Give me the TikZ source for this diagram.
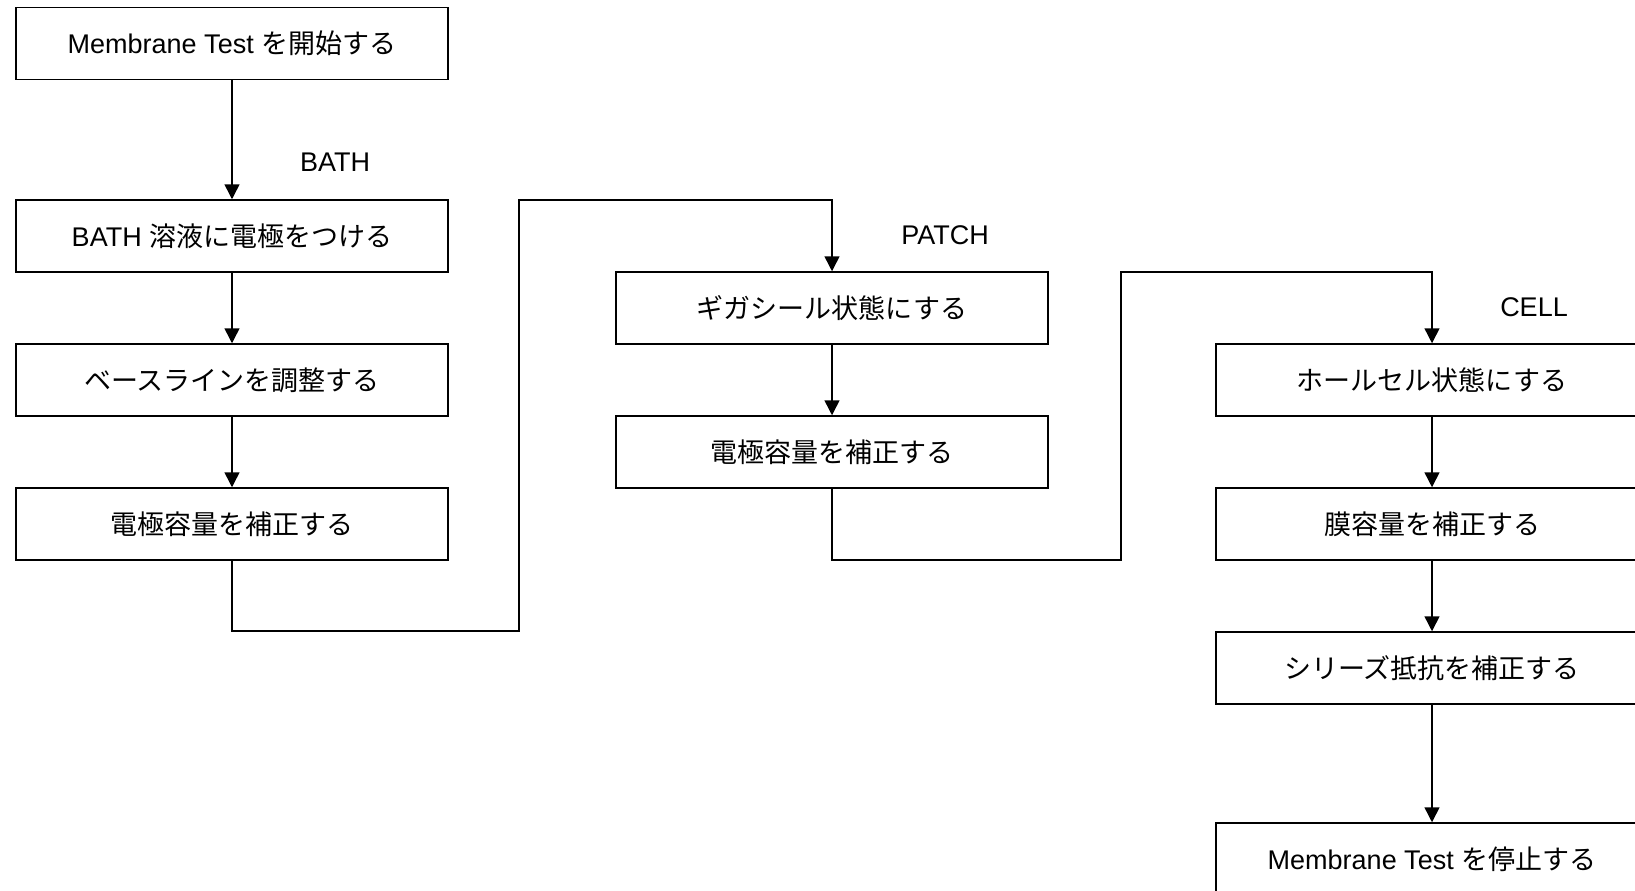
\documentclass[tikz,border=0pt]{standalone}
\usepackage{fontspec}
\setmainfont{Liberation Sans}
\newfontfamily\jp{Noto Sans CJK JP}
\usetikzlibrary{arrows.meta}
\tikzset{
  stepbox/.style={draw, line width=1.5pt, rectangle, minimum width=432pt, minimum height=72pt, inner sep=0pt, font=\fontsize{27}{32}\selectfont},
  lbl/.style={font=\fontsize{27}{32}\selectfont, inner sep=0pt},
  conn/.style={line width=1.5pt},
  arr/.style={conn, -{Triangle[length=15pt,width=15pt]}}
}
\begin{document}
\begin{tikzpicture}[x=1pt,y=-1pt]
\useasboundingbox (0,0) rectangle (1635,891);
\clip (0,0) rectangle (1635,891);
\node[stepbox] (a1) at (232,43.3) {Membrane Test {\jp を開始する}};
\node[stepbox] (a2) at (232,236) {BATH {\jp 溶液に電極をつける}};
\node[stepbox] (a3) at (232,380) {\jp ベースラインを調整する};
\node[stepbox] (a4) at (232,524) {\jp 電極容量を補正する};
\node[stepbox] (b1) at (832,308) {\jp ギガシール状態にする};
\node[stepbox] (b2) at (832,452) {\jp 電極容量を補正する};
\node[stepbox] (c1) at (1432,380) {\jp ホールセル状態にする};
\node[stepbox] (c2) at (1432,524) {\jp 膜容量を補正する};
\node[stepbox] (c3) at (1432,668) {\jp シリーズ抵抗を補正する};
\node[stepbox] (c4) at (1432,859) {Membrane Test {\jp を停止する}};
\node[lbl] (t1) at (335,162) {BATH};
\node[lbl] (t2) at (945,235) {PATCH};
\node[lbl] (t3) at (1534,307) {CELL};
\coordinate (p1) at (232,631);
\coordinate (p2) at (519,631);
\coordinate (p3) at (519,200);
\coordinate (p4) at (832,200);
\coordinate (q1) at (832,560);
\coordinate (q2) at (1121,560);
\coordinate (q3) at (1121,272);
\coordinate (q4) at (1432,272);
\draw[arr] (a1) -- (a2);
\draw[arr] (a2) -- (a3);
\draw[arr] (a3) -- (a4);
\draw[arr] (a4.south) -- (p1) -- (p2) -- (p3) -- (p4) -- (b1.north);
\draw[arr] (b1) -- (b2);
\draw[arr] (b2.south) -- (q1) -- (q2) -- (q3) -- (q4) -- (c1.north);
\draw[arr] (c1) -- (c2);
\draw[arr] (c2) -- (c3);
\draw[arr] (c3) -- (c4);
\end{tikzpicture}
\end{document}
